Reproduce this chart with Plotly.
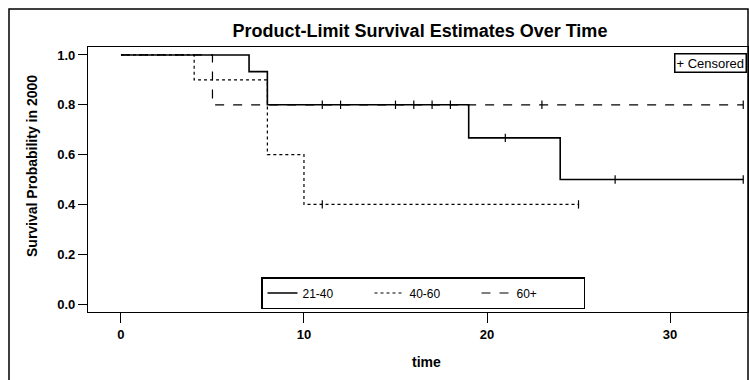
import plotly.graph_objects as go

# Step-function survival estimates (time, survival) per age group
t_2140 = [0, 7, 8, 19, 24, 34]
s_2140 = [1.0, 0.933, 0.8, 0.667, 0.5, 0.5]
t_4060 = [0, 4, 8, 10, 25]
s_4060 = [1.0, 0.9, 0.6, 0.4, 0.4]
t_60 = [0, 5, 34]
s_60 = [1.0, 0.8, 0.8]

# Censored observations
c_t_2140 = [15, 16, 18, 21, 27, 34]
c_s_2140 = [0.8, 0.8, 0.8, 0.667, 0.5, 0.5]
c_t_4060 = [11, 25]
c_s_4060 = [0.4, 0.4]
c_t_60 = [11, 12, 17, 23, 34]
c_s_60 = [0.8, 0.8, 0.8, 0.8, 0.8]

group_names = ["21-40", "40-60", "60+"]
x_ticks = [0, 10, 20, 30]
y_ticks = [0.0, 0.2, 0.4, 0.6, 0.8, 1.0]

FONT = "Liberation Sans, Arial, sans-serif"

fig = go.Figure()
curves = [(t_2140, s_2140, "solid", 1.6), (t_4060, s_4060, "dot", 1.2), (t_60, s_60, "dash", 1.2)]
for (t, s, dash, w), name in zip(curves, group_names):
    fig.add_trace(go.Scatter(x=t, y=s, mode="lines", line=dict(shape="hv", color="black", dash=dash, width=w),
                             name=name, showlegend=True))
for ct, cs in [(c_t_2140, c_s_2140), (c_t_4060, c_s_4060), (c_t_60, c_s_60)]:
    fig.add_trace(go.Scatter(x=ct, y=cs, mode="markers", showlegend=False,
                             marker=dict(symbol="line-ns", size=6, line=dict(color="black", width=1.2))))

W, H = 749, 380
L, R, T, B = 88, 1, 47, 68
pw = W - L - R
ph = H - T - B

def px2x(px):
    return (px - L) / pw

def py2y(py):
    return (H - B - py) / ph

fig.update_layout(
    width=W, height=H,
    margin=dict(l=L, r=R, t=T, b=B),
    paper_bgcolor="white", plot_bgcolor="white",
    font=dict(family=FONT, color="black", size=12),
    title=dict(text="<b>Product-Limit Survival Estimates Over Time</b>", x=420 / W, xref="container", xanchor="center",
               y=1 - 31 / H, yref="container", yanchor="middle",
               font=dict(family="Liberation Sans Narrow, Liberation Sans, Arial, sans-serif", size=18, color="black")),
    xaxis=dict(range=[-1.8, 34.26], tickvals=x_ticks, ticktext=["<b>%d</b>" % v for v in x_ticks], ticks="outside",
               ticklen=10, tickwidth=1.2, tickcolor="black", showline=True, linecolor="black", linewidth=1.2,
               mirror=True, showgrid=False, zeroline=False, tickfont=dict(size=13, family=FONT)),
    yaxis=dict(range=[-0.032, 1.032], tickvals=y_ticks, ticktext=["<b>%.1f</b>" % v for v in y_ticks],
               ticks="outside", ticklen=9, tickwidth=1.2, tickcolor="black", showline=True, linecolor="black",
               linewidth=1.2, mirror=True, showgrid=False, zeroline=False, tickfont=dict(size=13, family=FONT)),
    legend=dict(orientation="h", x=px2x(423), xanchor="center", y=py2y(309), yanchor="bottom",
                bordercolor="black", borderwidth=1.5, bgcolor="white", font=dict(size=12, family=FONT),
                tracegroupgap=0, itemwidth=30, entrywidth=62, entrywidthmode="pixels"),
    showlegend=True,
)

fig.add_annotation(text="<b>Survival Probability in 2000</b>", textangle=-90, xref="paper", yref="paper",
                   x=px2x(32), y=py2y(166), xanchor="center", yanchor="middle", showarrow=False,
                   font=dict(size=14, family=FONT))
fig.add_annotation(text="<b>time</b>", xref="paper", yref="paper", x=px2x(426), y=py2y(362),
                   xanchor="center", yanchor="middle", showarrow=False, font=dict(size=14, family=FONT))
fig.add_annotation(text="+ Censored", xref="paper", yref="paper", x=px2x(747), y=py2y(53),
                   xanchor="right", yanchor="top", showarrow=False, bordercolor="black", borderwidth=1.5,
                   borderpad=1, bgcolor="white", font=dict(size=13, family=FONT))

# outer frame
fig.add_shape(type="rect", xref="paper", yref="paper", x0=px2x(9), x1=px2x(748), y0=py2y(395), y1=py2y(9),
              line=dict(color="black", width=1.5), layer="below")

fig.write_html("out.html")
